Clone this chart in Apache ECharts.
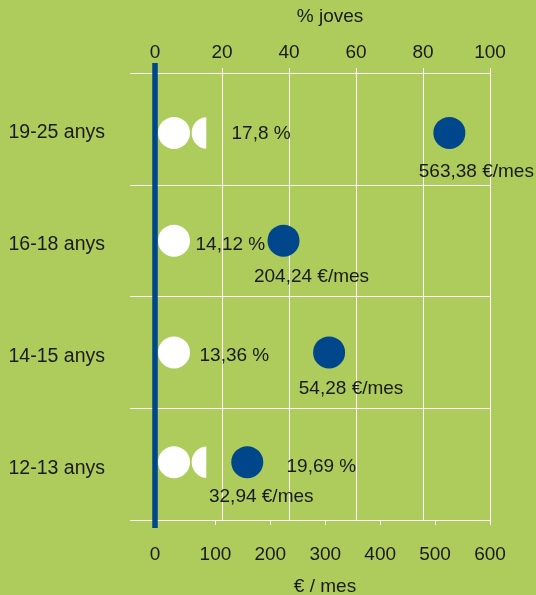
<!DOCTYPE html>
<html>
<head>
<meta charset="utf-8">
<script src="https://cdn.jsdelivr.net/npm/echarts@6/dist/echarts.min.js"></script>
<style>
html,body{margin:0;padding:0;background:#adcc5c;}
#chart{width:536px;height:595px;}
</style>
</head>
<body>
<div id="chart"></div>
<script>
// ---- data ----
var categories = ['19-25 anys', '16-18 anys', '14-15 anys', '12-13 anys'];
var pctValues = [17.8, 14.12, 13.36, 19.69];          // % joves (label text)
var euroValues = [563.38, 204.24, 54.28, 32.94];      // €/mes (label text)
var pictogramLength = [15.3, 10.5, 10.5, 15.3];       // white pictogram extent on % axis
var dotPosition = [526, 224, 307, 158];               // blue dot position on € axis
var pctTicks = [0, 20, 40, 60, 80, 100];
var euroTicks = [0, 100, 200, 300, 400, 500, 600];

// ---- layout / style ----
var FONT = '"Liberation Sans", Arial, Helvetica, sans-serif';
var TXT = '#1a1a1a';
var BLUE = '#00468b';
var euroAxisStart = -10;   // the € axis "0" label sits under the blue baseline
var rowShift = [4, 0, 0, -2];
var pctLabelOffset = [[76, 5], [40, 4], [44, 3], [131, 3]];
var euroLabelOffset = [[27, 39], [28, 36], [22, 36], [14, 35]];

var chart = echarts.init(document.getElementById('chart'));

var option = {
  backgroundColor: '#adcc5c',
  animation: false,
  textStyle: { fontFamily: FONT },
  grid: { left: 155, right: 46, top: 73, bottom: 75, containLabel: false, outerBoundsMode: 'none' },
  xAxis: [
    {
      type: 'value', position: 'top', min: pctTicks[0], max: pctTicks[pctTicks.length - 1], interval: 20,
      name: '% joves', nameLocation: 'middle', nameGap: 47,
      nameTextStyle: { color: TXT, fontSize: 19, fontFamily: FONT, padding: [0, 0, 0, 15] },
      axisLine: { show: true, lineStyle: { color: '#ffffff', width: 1 } },
      axisTick: { show: true, length: 5, lineStyle: { color: '#ffffff', width: 1 } },
      axisLabel: { color: TXT, fontSize: 19, fontFamily: FONT, margin: 11 },
      splitLine: { show: true, lineStyle: { color: '#ffffff', width: 1 } }
    },
    {
      type: 'value', position: 'bottom', min: euroAxisStart, max: euroTicks[euroTicks.length - 1],
      name: '€ / mes', nameLocation: 'middle', nameGap: 57,
      nameTextStyle: { color: TXT, fontSize: 19, fontFamily: FONT, padding: [0, 0, 0, 5] },
      axisLine: { show: true, lineStyle: { color: '#ffffff', width: 1 } },
      axisTick: { show: true, length: 5, lineStyle: { color: '#ffffff', width: 1 },
        customValues: euroTicks.slice(1) },
      axisLabel: { color: TXT, fontSize: 19, fontFamily: FONT, margin: 25,
        customValues: euroTicks.map(function (v) { return v === 0 ? euroAxisStart : v; }),
        formatter: function (v) { return v < 0 ? '0' : String(v); } },
      splitLine: { show: false }
    }
  ],
  yAxis: {
    type: 'category', data: categories, inverse: true,
    axisLine: { show: false },
    axisTick: { show: true, length: 25, lineStyle: { color: '#ffffff', width: 1 } },
    axisLabel: { color: TXT, fontSize: 19.5, fontFamily: FONT, margin: 50,
      verticalAlign: 'top', lineHeight: 8 },
    splitLine: { show: true, lineStyle: { color: '#ffffff', width: 1 } }
  },
  series: [
    {
      type: 'pictorialBar', xAxisIndex: 0, yAxisIndex: 0,
      symbol: 'circle', symbolSize: [32, 32], symbolRepeat: true, symbolClip: true,
      symbolBoundingData: 100, symbolMargin: '1',
      itemStyle: { color: '#ffffff', opacity: 1 },
      data: pictogramLength.map(function (v, i) {
        return { value: v, symbolOffset: [3, rowShift[i]] };
      }),
      z: 3
    },
    {
      type: 'scatter', xAxisIndex: 1, yAxisIndex: 0,
      symbol: 'circle', symbolSize: 32,
      itemStyle: { color: BLUE, opacity: 1 },
      data: dotPosition.map(function (v, i) {
        return {
          value: [v, categories[i]],
          symbolOffset: [0, rowShift[i]],
          label: {
            show: true, position: 'inside', offset: euroLabelOffset[i],
            formatter: String(euroValues[i]).replace('.', ',') + ' €/mes',
            color: TXT, fontSize: 19, fontFamily: FONT
          }
        };
      }),
      z: 4
    },
    {
      type: 'scatter', xAxisIndex: 0, yAxisIndex: 0,
      symbol: 'circle', symbolSize: 1, silent: true,
      itemStyle: { color: 'rgba(0,0,0,0)', opacity: 1 },
      data: pctValues.map(function (v, i) {
        return {
          value: [0, categories[i]],
          label: {
            show: true, position: 'right', distance: 0, offset: pctLabelOffset[i],
            formatter: String(v).replace('.', ',') + ' %',
            color: TXT, fontSize: 19, fontFamily: FONT
          }
        };
      }),
      z: 5
    }
  ]
};
chart.setOption(option);

// blue baseline at 0 on the % axis, extending a little beyond the plot
var x0 = chart.convertToPixel({ xAxisIndex: 0 }, 0);
var gridTop = 73, gridBottom = 595 - 75;
chart.setOption({
  graphic: [{
    type: 'rect', z: 100,
    shape: { x: x0 - 2.75, y: gridTop - 10, width: 5.5, height: (gridBottom - gridTop) + 18 },
    style: { fill: BLUE }
  }]
});
</script>
</body>
</html>
